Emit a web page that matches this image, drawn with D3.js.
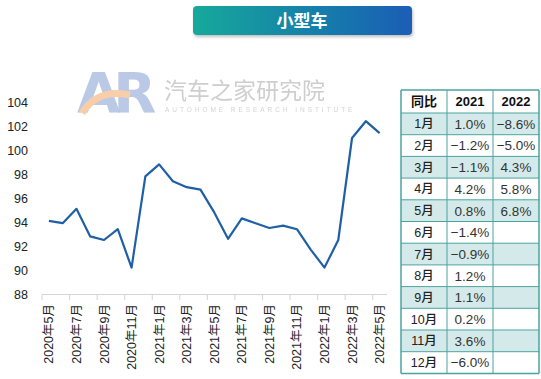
<!DOCTYPE html>
<html><head><meta charset="utf-8">
<script src="https://cdn.jsdelivr.net/npm/d3@7"></script>
<style>body{margin:0;background:#fff;}svg{display:block;font-family:"Liberation Sans",Arial,"Noto Sans CJK SC",sans-serif;}</style>
</head><body>
<svg id="c" width="541" height="379"></svg>
<script>
const months = ["2020年5月","2020年6月","2020年7月","2020年8月","2020年9月","2020年10月","2020年11月","2020年12月",
"2021年1月","2021年2月","2021年3月","2021年4月","2021年5月","2021年6月","2021年7月","2021年8月","2021年9月","2021年10月","2021年11月","2021年12月",
"2022年1月","2022年2月","2022年3月","2022年4月","2022年5月"];
const values = [94.1,93.9,95.1,92.8,92.5,93.4,90.2,97.8,98.8,97.4,96.9,96.7,94.8,92.6,94.3,93.9,93.5,93.7,93.4,91.7,90.2,92.5,101.0,102.4,101.4];
const yTicks = [88,90,92,94,96,98,100,102,104];
const tableHeader = ["同比","2021","2022"];
const tableMonths = ["1月","2月","3月","4月","5月","6月","7月","8月","9月","10月","11月","12月"];
const yoy2021 = ["1.0%","−1.2%","−1.1%","4.2%","0.8%","−1.4%","−0.9%","1.2%","1.1%","0.2%","3.6%","−6.0%"];
const yoy2022 = ["−8.6%","−5.0%","4.3%","5.8%","6.8%","","","","","","",""];

(function(){
const svg = d3.select("#c");
const defs = svg.append("defs");
const g1 = defs.append("linearGradient").attr("id","tg").attr("x1","0").attr("x2","1").attr("y1","0").attr("y2","0");
g1.append("stop").attr("offset","0").attr("stop-color","#17a99b");
g1.append("stop").attr("offset","1").attr("stop-color","#1a5db6");
const f = defs.append("filter").attr("id","sh").attr("x","-10%").attr("y","-30%").attr("width","120%").attr("height","160%");
f.append("feDropShadow").attr("dx",1).attr("dy",2).attr("stdDeviation",1.5).attr("flood-color","#000").attr("flood-opacity",0.25);

// Title
svg.append("rect").attr("x",193).attr("y",6).attr("width",219).attr("height",29).attr("rx",4)
  .attr("fill","url(#tg)").attr("filter","url(#sh)");
svg.append("text").attr("x",302).attr("y",27).attr("text-anchor","middle").attr("fill","#fff")
  .attr("font-size",17).attr("font-weight","bold").attr("font-family","'Noto Sans CJK SC',sans-serif").text("小型车");

// Watermark
const wm = svg.append("g").attr("opacity",0.9);
wm.append("text").attr("x",77).attr("y",112).attr("font-size",56).attr("font-weight","bold")
  .attr("letter-spacing",-7).attr("fill","#aabde0").attr("fill-opacity",0.9).attr("font-family","'DejaVu Sans',sans-serif").text("AR");
wm.append("path").attr("d","M82,113 Q98,88 130,95").attr("fill","none").attr("stroke","#f8c9a0").attr("stroke-width",7).attr("stroke-linecap","butt");
wm.append("text").attr("x",164).attr("y",99).attr("font-size",23).attr("fill","#c9c9c9")
  .attr("font-family","'Noto Sans CJK SC',sans-serif").text("汽车之家研究院");
wm.append("text").attr("x",165).attr("y",112).attr("font-size",6.5).attr("fill","#cfcfcf").attr("letter-spacing",2.95)
  .text("AUTOHOME  RESEARCH  INSTITUTE");

// Scales
const x = d3.scaleBand().domain(months).range([42,386.5]).padding(0);
const y = d3.scaleLinear().domain([88,104]).range([294,102]);

// Y labels
svg.append("g").selectAll("text").data(yTicks).join("text")
  .attr("x",28).attr("y",d=>y(d)).attr("dy","0.36em").attr("text-anchor","end")
  .attr("font-size",12.5).attr("fill","#222").text(d=>d);

// X axis
const xAxis = d3.axisBottom(x).tickSize(0).tickFormat("");
const gx = svg.append("g").attr("transform","translate(0,294)").call(xAxis);
gx.select(".domain").attr("stroke","#d4d4d4");
const tickPos = months.filter((d,i)=>i%2===0);
svg.append("g").selectAll("line").data(tickPos).join("line")
  .attr("x1",d=>x(d)).attr("x2",d=>x(d)).attr("y1",294).attr("y2",300).attr("stroke","#d4d4d4");
svg.append("g").selectAll("text").data(tickPos).join("text")
  .attr("transform",d=>`translate(${x(d)+x.bandwidth()/2+4.5},304) rotate(-90)`)
  .attr("text-anchor","end").attr("font-size",12.5).attr("fill","#222").text(d=>d);

// Line
const line = d3.line().x((d,i)=>x(months[i])+x.bandwidth()/2).y(d=>y(d));
svg.append("path").datum(values).attr("d",line).attr("fill","none").attr("stroke","#1f5fa6")
  .attr("stroke-width",2.2).attr("stroke-linejoin","round");

// Table
const tx = [401,447,493,539];
const headerH = 23, rowH = 21.7, tTop = 90;
const tg = svg.append("g");
const rows = tableMonths.map((m,i)=>({m, a:yoy2021[i], b:yoy2022[i], i}));
tg.selectAll("rect.bg").data(rows).join("rect")
  .attr("x",tx[0]).attr("y",d=>tTop+headerH+d.i*rowH).attr("width",tx[3]-tx[0]).attr("height",rowH)
  .attr("fill",d=>d.i%2===0?"#d4eaea":"#fff");
const bc = "#4aa3a0";
const hy = [tTop, tTop+headerH].concat(rows.map(d=>tTop+headerH+(d.i+1)*rowH));
tg.selectAll("line.h").data(hy).join("line").attr("class","h").attr("x1",tx[0]).attr("x2",tx[3])
  .attr("y1",d=>d).attr("y2",d=>d).attr("stroke",bc).attr("stroke-width",(d,i)=>i===0||i===hy.length-1?1.5:1);
tg.selectAll("line.v").data(tx).join("line").attr("class","v").attr("x1",d=>d).attr("x2",d=>d)
  .attr("y1",tTop).attr("y2",hy[hy.length-1]).attr("stroke",bc).attr("stroke-width",(d,i)=>i===0||i===3?1.5:1);
const cx = [(tx[0]+tx[1])/2,(tx[1]+tx[2])/2,(tx[2]+tx[3])/2];
tg.selectAll("text.hd").data(tableHeader).join("text").attr("class","hd")
  .attr("x",(d,i)=>cx[i]).attr("y",tTop+headerH/2).attr("dy","0.36em").attr("text-anchor","middle")
  .attr("font-size",13).attr("font-weight","bold").attr("fill","#111").text(d=>d);
tg.selectAll("text.m").data(rows).join("text").attr("class","m")
  .attr("x",cx[0]).attr("y",d=>tTop+headerH+d.i*rowH+rowH/2).attr("dy","0.36em").attr("text-anchor","middle")
  .attr("font-size",12.5).attr("font-weight",500).attr("fill","#222").text(d=>d.m);
tg.selectAll("text.a").data(rows).join("text").attr("class","a")
  .attr("x",cx[1]).attr("y",d=>tTop+headerH+d.i*rowH+rowH/2).attr("dy","0.36em").attr("text-anchor","middle")
  .attr("font-size",13.5).attr("fill","#333").text(d=>d.a);
tg.selectAll("text.b").data(rows).join("text").attr("class","b")
  .attr("x",cx[2]).attr("y",d=>tTop+headerH+d.i*rowH+rowH/2).attr("dy","0.36em").attr("text-anchor","middle")
  .attr("font-size",13.5).attr("fill","#333").text(d=>d.b);
})();
</script>
</body></html>
